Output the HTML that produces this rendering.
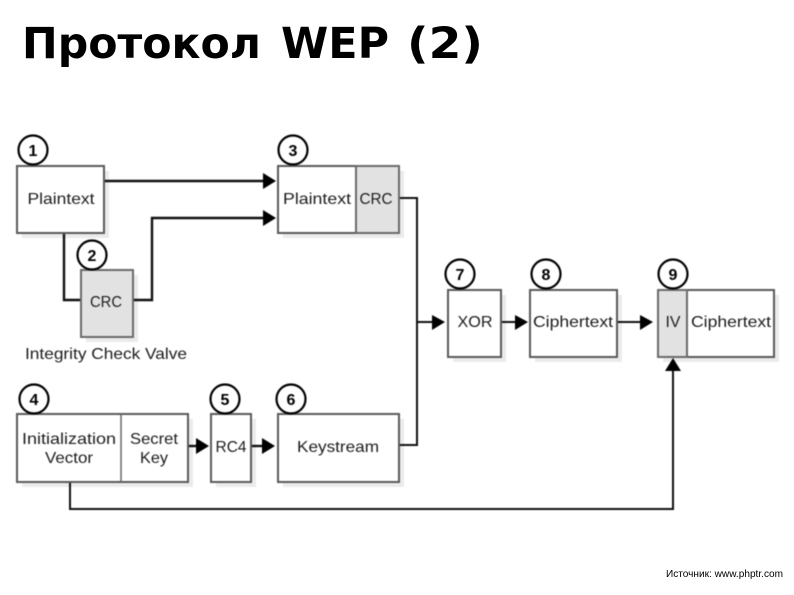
<!DOCTYPE html>
<html><head><meta charset="utf-8">
<style>
html,body{margin:0;padding:0;background:#fff;width:794px;height:595px;overflow:hidden}
svg{display:block;position:absolute;left:0;top:0}
.d{filter:blur(0.4px)}
.l{font-family:"Liberation Sans",sans-serif;font-size:16px;fill:#1c1c1c;text-anchor:middle}
.n{font-family:"Liberation Sans",sans-serif;font-size:16px;font-weight:bold;fill:#000;text-anchor:middle}
.s{fill:#ebebeb;stroke:none}
.b{fill:#fff;stroke:#5a5a5a;stroke-width:2}
.g{fill:#e2e2e2;stroke:#6a6a6a;stroke-width:2}
.c{fill:#fff;stroke:#000;stroke-width:2.2}
.w{fill:none;stroke:#111;stroke-width:2.4}
.t{fill:none;stroke:#111;stroke-width:2}
.a{fill:#000}
.h{font-family:"DejaVu Sans",sans-serif;font-weight:bold;font-size:43px;fill:#000}
</style></head><body>
<svg width="794" height="595" viewBox="0 0 794 595" xmlns="http://www.w3.org/2000/svg">
<g class="d">
<!-- shadows -->
<rect class="s" x="22" y="171" width="87" height="67"/>
<rect class="s" x="86" y="275" width="52" height="67"/>
<rect class="s" x="283" y="171" width="121" height="67"/>
<rect class="s" x="22" y="419" width="171" height="68"/>
<rect class="s" x="216" y="419" width="40" height="68"/>
<rect class="s" x="283" y="419" width="121" height="68"/>
<rect class="s" x="453" y="295" width="53" height="67"/>
<rect class="s" x="535" y="295" width="87" height="67"/>
<rect class="s" x="663" y="295" width="116" height="67"/>
<!-- connectors -->
<polyline class="w" points="104,181 266,181"/>
<polyline class="w" points="64,233 64,300 81,300"/>
<polyline class="w" points="133,300 152,300 152,218 266,218"/>
<polyline class="t" points="399,198 417,198 417,445 399,445"/>
<polyline class="t" points="417,322 434,322"/>
<polyline class="t" points="501,322 517,322"/>
<polyline class="t" points="617,322 642,322"/>
<polyline class="w" points="188,446 198,446"/>
<polyline class="w" points="251,446 264,446"/>
<polyline class="t" points="70,482 70,509 673,509 673,370"/>
<!-- boxes -->
<rect class="b" x="17" y="166" width="87" height="67"/>
<rect class="g" x="81" y="270" width="52" height="67"/>
<rect class="b" x="278" y="166" width="121" height="67"/>
<rect class="g" x="356" y="166" width="43" height="67"/>
<rect class="b" x="17" y="414" width="171" height="68"/>
<line x1="121" y1="414" x2="121" y2="482" stroke="#666" stroke-width="1.5"/>
<rect class="b" x="211" y="414" width="40" height="68"/>
<rect class="b" x="278" y="414" width="121" height="68"/>
<rect class="b" x="448" y="290" width="53" height="67"/>
<rect class="b" x="530" y="290" width="87" height="67"/>
<rect class="b" x="658" y="290" width="116" height="67"/>
<rect class="g" x="658" y="290" width="29" height="67"/>
<!-- arrowheads -->
<polygon class="a" points="263,173 263,189 276,181"/>
<polygon class="a" points="263,210 263,226 276,218"/>
<polygon class="a" points="432,315 432,330 445,322"/>
<polygon class="a" points="515,315 515,330 528,322"/>
<polygon class="a" points="640,315 640,330 653,322"/>
<polygon class="a" points="196,438 196,454 209,446"/>
<polygon class="a" points="262,438 262,454 275,446"/>
<polygon class="a" points="665,371 681,371 673,358"/>
<!-- circles -->
<circle class="c" cx="33" cy="150" r="14.5"/>
<circle class="c" cx="92" cy="255" r="14.5"/>
<circle class="c" cx="293" cy="150" r="14.5"/>
<circle class="c" cx="34" cy="399" r="14.5"/>
<circle class="c" cx="225" cy="399" r="14.5"/>
<circle class="c" cx="291" cy="399" r="14.5"/>
<circle class="c" cx="460" cy="274" r="14.5"/>
<circle class="c" cx="546" cy="274" r="14.5"/>
<circle class="c" cx="673" cy="274" r="14.5"/>
<text class="n" x="33" y="156">1</text>
<text class="n" x="92" y="261">2</text>
<text class="n" x="293" y="156">3</text>
<text class="n" x="34" y="405">4</text>
<text class="n" x="225" y="405">5</text>
<text class="n" x="291" y="405">6</text>
<text class="n" x="460" y="280">7</text>
<text class="n" x="546" y="280">8</text>
<text class="n" x="673" y="280">9</text>
<!-- labels -->
<text class="l" x="61" y="204" textLength="67" lengthAdjust="spacingAndGlyphs">Plaintext</text>
<text class="l" x="106" y="307" textLength="32" lengthAdjust="spacingAndGlyphs">CRC</text>
<text class="l" x="317" y="204" textLength="68" lengthAdjust="spacingAndGlyphs">Plaintext</text>
<text class="l" x="376" y="204" textLength="33" lengthAdjust="spacingAndGlyphs">CRC</text>
<text class="l" x="106" y="359" textLength="162" lengthAdjust="spacingAndGlyphs">Integrity Check Valve</text>
<text class="l" x="69" y="444" textLength="94" lengthAdjust="spacingAndGlyphs">Initialization</text>
<text class="l" x="69" y="463" textLength="48" lengthAdjust="spacingAndGlyphs">Vector</text>
<text class="l" x="154" y="444" textLength="48" lengthAdjust="spacingAndGlyphs">Secret</text>
<text class="l" x="154" y="463" textLength="28" lengthAdjust="spacingAndGlyphs">Key</text>
<text class="l" x="231" y="452" textLength="31" lengthAdjust="spacingAndGlyphs">RC4</text>
<text class="l" x="338" y="452" textLength="82" lengthAdjust="spacingAndGlyphs">Keystream</text>
<text class="l" x="475" y="327" textLength="35" lengthAdjust="spacingAndGlyphs">XOR</text>
<text class="l" x="573" y="327" textLength="80" lengthAdjust="spacingAndGlyphs">Ciphertext</text>
<text class="l" x="673" y="327" textLength="15" lengthAdjust="spacingAndGlyphs">IV</text>
<text class="l" x="731" y="327" textLength="80" lengthAdjust="spacingAndGlyphs">Ciphertext</text>
</g>
<text class="h" x="22" y="58" textLength="239" lengthAdjust="spacingAndGlyphs">Протокол</text>
<text class="h" x="281" y="58" textLength="108" lengthAdjust="spacingAndGlyphs">WEP</text>
<text class="h" x="407" y="58" textLength="76" lengthAdjust="spacingAndGlyphs">(2)</text>
<text x="666" y="577" font-family="'Liberation Sans',sans-serif" font-size="10.5" fill="#000" textLength="117" lengthAdjust="spacingAndGlyphs">Источник: www.phptr.com</text>
</svg>
</body></html>
